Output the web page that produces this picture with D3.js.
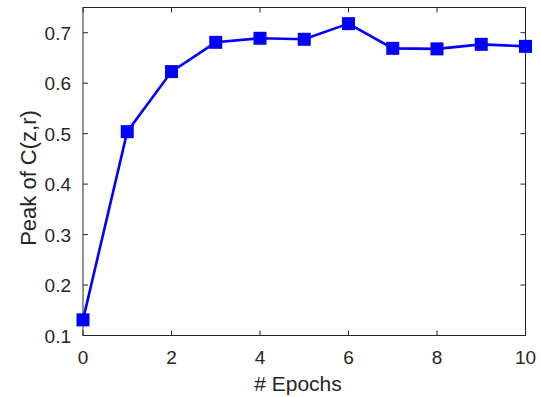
<!DOCTYPE html>
<html><head><meta charset="utf-8">
<script src="https://cdn.jsdelivr.net/npm/d3@7"></script>
<style>body{margin:0;background:#fff;} text{font-family:"Liberation Sans",Arial,sans-serif;fill:#262626;}</style>
</head><body>
<svg id="c" width="541" height="397"></svg>
<script>
const epochs = [0,1,2,3,4,5,6,7,8,9,10];
const peak = [0.131,0.504,0.623,0.681,0.689,0.687,0.718,0.669,0.668,0.677,0.673];
const xTicks = [0,2,4,6,8,10];
const yTicks = [0.1,0.2,0.3,0.4,0.5,0.6,0.7];

const svg = d3.select("#c");
const L=83, R=525.5, T=7.5, B=335.5;
const x = d3.scaleLinear().domain([0,10]).range([L,R]);
const y = d3.scaleLinear().domain([0.1,0.75]).range([B,T]);
const axCol="#262626";

svg.append("rect").attr("x",L).attr("y",T).attr("width",R-L).attr("height",B-T)
  .attr("fill","none").attr("stroke",axCol).attr("stroke-width",1);

const tl=5;
const g = svg.append("g");
xTicks.forEach(v=>{
  g.append("line").attr("x1",x(v)).attr("x2",x(v)).attr("y1",B).attr("y2",B-tl).attr("stroke",axCol);
  g.append("line").attr("x1",x(v)).attr("x2",x(v)).attr("y1",T).attr("y2",T+tl).attr("stroke",axCol);
  g.append("text").attr("x",x(v)).attr("y",B+28).attr("text-anchor","middle").attr("font-size",19).text(d3.format("d")(v));
});
yTicks.forEach(v=>{
  g.append("line").attr("x1",L).attr("x2",L+tl).attr("y1",y(v)).attr("y2",y(v)).attr("stroke",axCol);
  g.append("line").attr("x1",R).attr("x2",R-tl).attr("y1",y(v)).attr("y2",y(v)).attr("stroke",axCol);
  g.append("text").attr("x",L-12).attr("y",y(v)+7).attr("text-anchor","end").attr("font-size",19).text(d3.format(".1f")(v));
});

svg.append("text").attr("x",298).attr("y",391).attr("text-anchor","middle").attr("font-size",21).text("# Epochs");
svg.append("text").attr("transform",`translate(36,178) rotate(-90)`).attr("text-anchor","middle").attr("font-size",22).text("Peak of C(z,r)");

const line = d3.line().x((d,i)=>x(epochs[i])).y(d=>y(d));
svg.append("path").datum(peak).attr("d",line).attr("fill","none").attr("stroke","#0000ff").attr("stroke-width",2.6);
const s=13;
svg.selectAll("rect.m").data(peak).enter().append("rect").attr("class","m")
  .attr("x",(d,i)=>x(epochs[i])-s/2).attr("y",d=>y(d)-s/2).attr("width",s).attr("height",s).attr("fill","#0000ff");
</script>
</body></html>
